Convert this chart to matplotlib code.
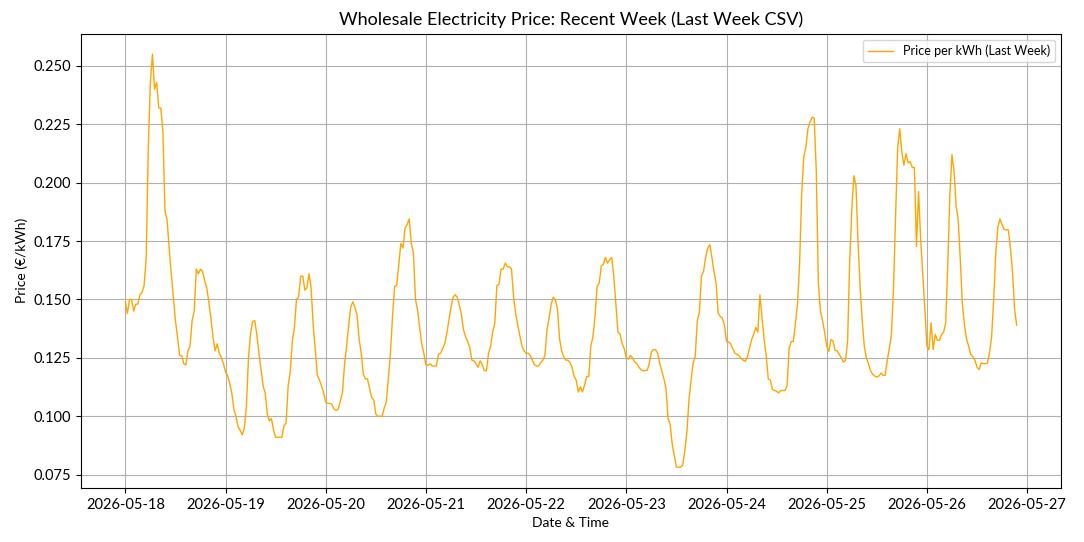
import matplotlib
matplotlib.use("Agg")
import matplotlib.pyplot as plt
import matplotlib.dates as mdates
import pandas as pd

plt.rcParams['font.family'] = ['Lato', 'DejaVu Sans']

# half-hourly prices (EUR/kWh), one list per day
day_18 = [0.149, 0.144, 0.150, 0.150, 0.145, 0.148, 0.148, 0.152, 0.153, 0.156,
          0.168, 0.215, 0.243, 0.255, 0.240, 0.243, 0.232, 0.232, 0.222, 0.188,
          0.184, 0.172, 0.161, 0.151, 0.141, 0.134, 0.126, 0.126, 0.1225, 0.122,
          0.128, 0.130, 0.141, 0.145, 0.163, 0.161, 0.163, 0.162, 0.158, 0.155,
          0.149, 0.142, 0.134, 0.128, 0.131, 0.127, 0.125, 0.1225]
day_19 = [0.119, 0.1175, 0.114, 0.110, 0.103, 0.100, 0.0955, 0.094, 0.092, 0.095,
          0.104, 0.125, 0.1355, 0.1405, 0.141, 0.135, 0.127, 0.120, 0.113, 0.110,
          0.101, 0.098, 0.099, 0.094, 0.091, 0.091, 0.091, 0.091, 0.096, 0.097,
          0.113, 0.119, 0.132, 0.138, 0.150, 0.151, 0.160, 0.160, 0.154, 0.155,
          0.161, 0.155, 0.139, 0.128, 0.1175, 0.1155, 0.113, 0.110]
day_20 = [0.106, 0.1055, 0.1055, 0.105, 0.103, 0.1025, 0.103, 0.1065, 0.110, 0.122,
          0.130, 0.139, 0.147, 0.149, 0.1465, 0.1434, 0.133, 0.127, 0.118, 0.116,
          0.116, 0.112, 0.108, 0.107, 0.101, 0.100, 0.100, 0.100, 0.1035, 0.106,
          0.116, 0.127, 0.1427, 0.1556, 0.156, 0.165, 0.174, 0.172, 0.1806, 0.182,
          0.1845, 0.174, 0.170, 0.150, 0.1455, 0.138, 0.131, 0.127]
day_21 = [0.122, 0.1218, 0.1225, 0.1215, 0.1215, 0.1215, 0.1265, 0.127, 0.129, 0.131,
          0.1355, 0.141, 0.1465, 0.151, 0.152, 0.151, 0.1475, 0.1435, 0.137, 0.134,
          0.132, 0.1295, 0.124, 0.1237, 0.1225, 0.121, 0.1237, 0.122, 0.1195, 0.1195,
          0.127, 0.130, 0.136, 0.140, 0.156, 0.1563, 0.163, 0.163, 0.1656, 0.164,
          0.164, 0.163, 0.151, 0.144, 0.139, 0.1345, 0.130, 0.128]
day_22 = [0.127, 0.127, 0.126, 0.124, 0.122, 0.1215, 0.1215, 0.123, 0.124, 0.126,
          0.137, 0.142, 0.148, 0.151, 0.150, 0.146, 0.1333, 0.128, 0.1255, 0.124,
          0.124, 0.123, 0.121, 0.117, 0.1154, 0.1104, 0.1126, 0.1104, 0.1133, 0.117,
          0.117, 0.130, 0.134, 0.1427, 0.1556, 0.157, 0.1644, 0.165, 0.168, 0.1656,
          0.167, 0.168, 0.160, 0.148, 0.136, 0.1352, 0.131, 0.129]
day_23 = [0.125, 0.1245, 0.126, 0.125, 0.1233, 0.1225, 0.121, 0.120, 0.1195, 0.1195,
          0.1197, 0.1226, 0.1275, 0.1285, 0.1285, 0.127, 0.1226, 0.1195, 0.116, 0.112,
          0.099, 0.0965, 0.088, 0.083, 0.0782, 0.0782, 0.0782, 0.079, 0.085, 0.093,
          0.1068, 0.1154, 0.1226, 0.1255, 0.141, 0.1445, 0.160, 0.162, 0.168, 0.172,
          0.1735, 0.168, 0.162, 0.157, 0.1441, 0.1427, 0.142, 0.139]
day_24 = [0.132, 0.1318, 0.131, 0.129, 0.127, 0.1265, 0.126, 0.1248, 0.124, 0.1235,
          0.1254, 0.129, 0.1328, 0.135, 0.138, 0.136, 0.152, 0.1425, 0.133, 0.1261,
          0.116, 0.1155, 0.1115, 0.111, 0.1107, 0.110, 0.111, 0.111, 0.111, 0.113,
          0.129, 0.132, 0.132, 0.1397, 0.148, 0.165, 0.195, 0.211, 0.215, 0.223,
          0.226, 0.228, 0.2277, 0.205, 0.157, 0.145, 0.141, 0.136]
day_25 = [0.130, 0.1278, 0.1328, 0.1323, 0.1282, 0.128, 0.1265, 0.125, 0.1232, 0.124,
          0.132, 0.166, 0.188, 0.203, 0.199, 0.175, 0.1555, 0.141, 0.130, 0.125,
          0.1225, 0.1195, 0.118, 0.1172, 0.1168, 0.1172, 0.1185, 0.1175, 0.1175, 0.124,
          0.129, 0.135, 0.155, 0.186, 0.215, 0.2231, 0.213, 0.2075, 0.2125, 0.2085,
          0.209, 0.2065, 0.2065, 0.1727, 0.1962, 0.176, 0.161, 0.146]
day_26 = [0.130, 0.1285, 0.140, 0.1285, 0.135, 0.1325, 0.1325, 0.135, 0.136, 0.140,
          0.165, 0.195, 0.212, 0.205, 0.190, 0.1842, 0.167, 0.148, 0.139, 0.133,
          0.130, 0.1265, 0.1255, 0.124, 0.121, 0.120, 0.1228, 0.1225, 0.1225, 0.1228,
          0.127, 0.134, 0.150, 0.170, 0.181, 0.1845, 0.182, 0.180, 0.1798, 0.1798,
          0.172, 0.162, 0.146, 0.139]

prices = day_18 + day_19 + day_20 + day_21 + day_22 + day_23 + day_24 + day_25 + day_26
times = pd.date_range("2026-05-18 00:00", periods=len(prices), freq="30min")

fig, ax = plt.subplots(figsize=(10.84, 5.42), dpi=100)
fig.subplots_adjust(left=0.0745, right=0.979, top=0.938, bottom=0.100)

ax.plot(times, prices, color='orange', linewidth=1.0, label='Price per kWh (Last Week)')

ax.set_title('Wholesale Electricity Price: Recent Week (Last Week CSV)', fontsize=13)
ax.set_xlabel('Date & Time', fontsize=10)
ax.set_ylabel('Price (€/kWh)', fontsize=10)

ax.xaxis.set_major_locator(mdates.DayLocator())
ax.xaxis.set_major_formatter(mdates.DateFormatter('%Y-%m-%d'))
ax.yaxis.set_major_formatter(plt.FormatStrFormatter('%.3f'))
ax.tick_params(labelsize=10.5)

ax.grid(True)
ax.legend(loc='upper right', fontsize=9)

fig.savefig('out.png', dpi=100)
